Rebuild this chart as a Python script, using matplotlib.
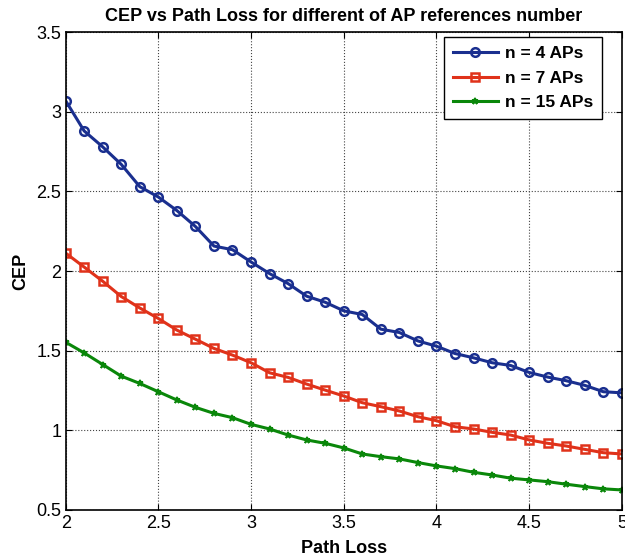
import numpy as np
import matplotlib.pyplot as plt

plt.rcParams['font.family'] = ['Liberation Sans', 'DejaVu Sans']

path_loss = np.round(np.arange(2.0, 5.01, 0.1), 1)

cep_4 = [3.07, 2.88, 2.78, 2.67, 2.53, 2.465, 2.38, 2.28, 2.157, 2.134,
         2.057, 1.984, 1.921, 1.842, 1.804, 1.750, 1.727, 1.635, 1.614, 1.561,
         1.528, 1.482, 1.455, 1.424, 1.407, 1.363, 1.334, 1.311, 1.282, 1.242,
         1.235]
cep_7 = [2.113, 2.025, 1.936, 1.840, 1.768, 1.702, 1.629, 1.572, 1.514, 1.472,
         1.424, 1.361, 1.332, 1.290, 1.252, 1.215, 1.173, 1.148, 1.121, 1.085,
         1.060, 1.022, 1.008, 0.987, 0.970, 0.939, 0.918, 0.901, 0.880, 0.859,
         0.851]
cep_15 = [1.553, 1.486, 1.413, 1.340, 1.294, 1.242, 1.190, 1.144, 1.106, 1.079,
          1.037, 1.008, 0.970, 0.939, 0.918, 0.889, 0.851, 0.834, 0.820, 0.797,
          0.776, 0.759, 0.736, 0.719, 0.699, 0.688, 0.677, 0.661, 0.646, 0.632,
          0.625]
labels = ['n = 4 APs', 'n = 7 APs', 'n = 15 APs']

fig = plt.figure(figsize=(6.25, 5.56), dpi=100)
ax = fig.add_axes([0.105, 0.083, 0.89, 0.859])

ax.plot(path_loss, cep_4, '-o', color='#1a2f8f', lw=2.2, ms=6.2,
        mfc='none', mew=1.8, label=labels[0])
ax.plot(path_loss, cep_7, '-s', color='#e0321a', lw=2.2, ms=6.2,
        mfc='none', mew=1.8, label=labels[1])
ax.plot(path_loss, cep_15, '-*', color='#0a870a', lw=2.2, ms=5,
        mew=1.2, label=labels[2])

ax.set_xlim(2, 5)
ax.set_ylim(0.5, 3.5)
ax.set_xticks(np.arange(2, 5.01, 0.5))
ax.set_yticks(np.arange(0.5, 3.51, 0.5))
ax.set_xticklabels(['2', '2.5', '3', '3.5', '4', '4.5', '5'])
ax.set_yticklabels(['0.5', '1', '1.5', '2', '2.5', '3', '3.5'])
ax.tick_params(direction='in', top=True, right=True, labelsize=13, length=4)
ax.tick_params(axis='y', pad=3)
ax.grid(True, linestyle=':', color='#444444', linewidth=0.8)
for s in ax.spines.values():
    s.set_linewidth(1.2)

ax.set_title('CEP vs Path Loss for different of AP references number',
             fontsize=13, fontweight='bold', pad=8)
ax.set_xlabel('Path Loss', fontsize=13, fontweight='bold', labelpad=6)
ax.set_ylabel('CEP', fontsize=13, fontweight='bold', labelpad=5)

leg = ax.legend(loc='upper right', bbox_to_anchor=(0.963, 0.933),
                bbox_transform=fig.transFigure,
                prop={'weight': 'bold', 'size': 12.5},
                fancybox=False, edgecolor='black', framealpha=1,
                handlelength=2.6, handletextpad=0.4, borderaxespad=0,
                labelspacing=0.55, borderpad=0.5)
leg.get_frame().set_linewidth(1.0)

plt.savefig('out.png', dpi=100)
